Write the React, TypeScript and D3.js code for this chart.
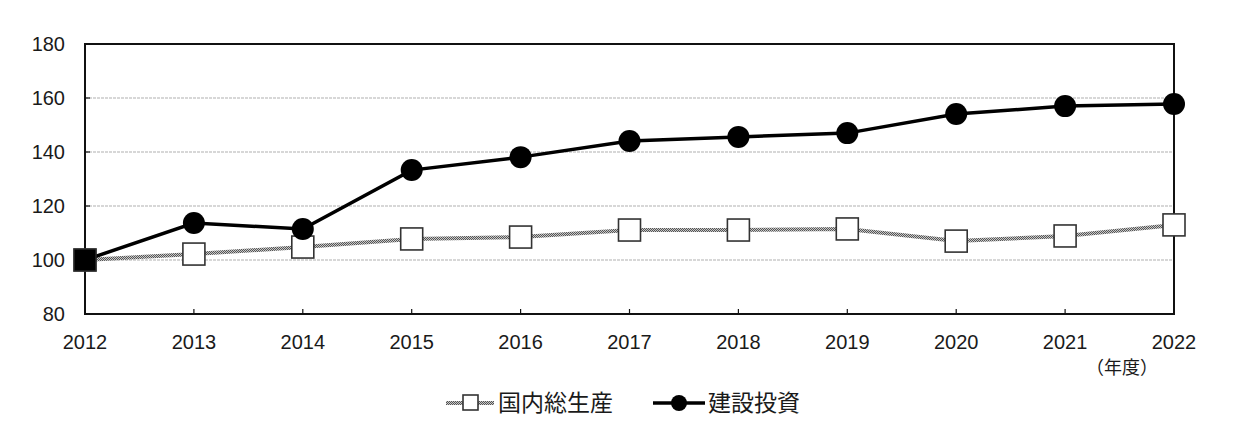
import * as d3 from 'd3';
import React, { useEffect } from 'react';

const years = [2012, 2013, 2014, 2015, 2016, 2017, 2018, 2019, 2020, 2021, 2022];
const gdp = [100, 102.2, 104.8, 107.8, 108.5, 111.1, 111.1, 111.5, 107.0, 108.9, 113.0];
const construction = [100, 113.7, 111.5, 133.3, 138.1, 144.1, 145.6, 147.0, 154.1, 157.0, 157.8];
const yTicks = [80, 100, 120, 140, 160, 180];
const gridTicks = [100, 120, 140, 160];
const gdpLabel = '国内総生産';
const constructionLabel = '建設投資';
const unitLabel = '（年度）';

const W = 1238;
const H = 426;
const margin = { top: 44, right: 64, bottom: 112, left: 85 };

const App: React.FC = () => {
  useEffect(() => {
    document.body.style.margin = '0';
  }, []);

  const x = d3
    .scaleLinear()
    .domain([years[0], years[years.length - 1]])
    .range([margin.left, W - margin.right]);
  const y = d3
    .scaleLinear()
    .domain([80, 180])
    .range([H - margin.bottom, margin.top]);

  const line = d3
    .line<number>()
    .x((_, i) => x(years[i]))
    .y((d) => y(d));

  const num = '"Liberation Sans", Arial, sans-serif';
  const jp = '"Noto Sans CJK JP", sans-serif';
  const plotBottom = H - margin.bottom;
  const legendY = 403;

  return (
    <svg width={W} height={H} style={{ display: 'block', background: '#fff' }}>
      <defs>
        {/* checkered texture for the GDP line */}
        <pattern id="checker" width={2} height={2} patternUnits="userSpaceOnUse">
          <rect width={2} height={2} fill="#c8c8c8" />
          <rect width={1} height={1} fill="#555" />
          <rect x={1} y={1} width={1} height={1} fill="#555" />
        </pattern>
      </defs>
      {/* grid */}
      {gridTicks.map((t) => (
        <line
          key={t}
          x1={margin.left}
          x2={W - margin.right}
          y1={y(t)}
          y2={y(t)}
          stroke="#b0b0b0"
          strokeWidth={1.2}
          strokeDasharray="3,1"
        />
      ))}
      {/* frame */}
      <rect
        x={margin.left}
        y={margin.top}
        width={W - margin.left - margin.right}
        height={plotBottom - margin.top}
        fill="none"
        stroke="#111"
        strokeWidth={2}
      />
      {/* x ticks */}
      {years.map((yr) => (
        <line key={yr} x1={x(yr)} x2={x(yr)} y1={plotBottom} y2={plotBottom - 5} stroke="#111" strokeWidth={1.2} />
      ))}
      {/* y ticks */}
      {yTicks.map((t) => (
        <line key={t} x1={margin.left} x2={margin.left + 5} y1={y(t)} y2={y(t)} stroke="#111" strokeWidth={1.2} />
      ))}
      {/* y labels */}
      {yTicks.map((t) => (
        <text key={t} x={65} y={y(t)} dy="0.36em" textAnchor="end" fontFamily={num} fontSize={20} fill="#1a1a1a">
          {t}
        </text>
      ))}
      {/* x labels */}
      {years.map((yr) => (
        <text key={yr} x={x(yr)} y={349} textAnchor="middle" fontFamily={num} fontSize={20} fill="#1a1a1a">
          {yr}
        </text>
      ))}
      <text x={1122} y={374} textAnchor="middle" fontFamily={jp} fontSize={18} fill="#1a1a1a">
        {unitLabel}
      </text>

      {/* GDP series */}
      <path d={line(gdp) ?? ''} fill="none" stroke="url(#checker)" strokeWidth={4} />
      {gdp.map((v, i) => (
        <rect
          key={i}
          x={x(years[i]) - 11}
          y={y(v) - 11}
          width={22}
          height={22}
          fill="#fff"
          stroke="#333"
          strokeWidth={1.6}
        />
      ))}

      {/* construction series */}
      <path d={line(construction) ?? ''} fill="none" stroke="#000" strokeWidth={3.5} />
      {construction.map((v, i) => (
        <circle key={i} cx={x(years[i])} cy={y(v)} r={11} fill="#000" />
      ))}
      {/* where both series meet, the markers merge into a dark square */}
      {gdp.map((v, i) =>
        v === construction[i] ? (
          <rect key={i} x={x(years[i]) - 11} y={y(v) - 11} width={22} height={22} fill="#000" stroke="#333" strokeWidth={1.2} />
        ) : null
      )}

      {/* legend */}
      <line x1={446} x2={494} y1={legendY} y2={legendY} stroke="url(#checker)" strokeWidth={4} />
      <rect x={463} y={legendY - 8} width={15} height={15} fill="#fff" stroke="#333" strokeWidth={1.6} />
      <text x={498} y={legendY} dy="0.36em" fontFamily={jp} fontSize={23} fill="#1a1a1a">
        {gdpLabel}
      </text>
      <line x1={653} x2={705} y1={legendY} y2={legendY} stroke="#000" strokeWidth={3.5} />
      <circle cx={679} cy={legendY} r={8} fill="#000" />
      <text x={708} y={legendY} dy="0.36em" fontFamily={jp} fontSize={23} fill="#1a1a1a">
        {constructionLabel}
      </text>
    </svg>
  );
};

export default App;
